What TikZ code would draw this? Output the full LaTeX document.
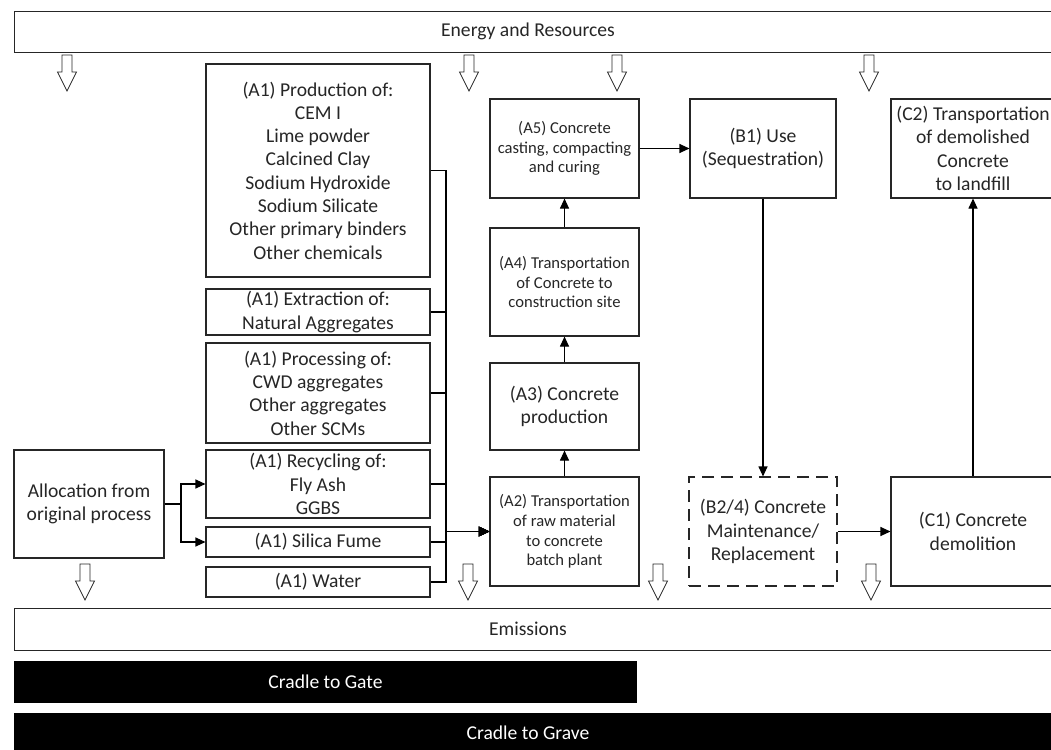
\documentclass[tikz,border=0pt]{standalone}
\usepackage{fontspec}
\setmainfont{Carlito}
\usetikzlibrary{arrows.meta}
\definecolor{ink}{RGB}{38,38,38}
\begin{document}
\begin{tikzpicture}[x=1pt,y=-1pt,
  box/.style={draw=ink, line width=1.1pt, fill=white, inner sep=0pt, align=center,
    text=ink, font=\fontsize{19.6}{23.3}\selectfont},
  smallbox/.style={box, font=\fontsize{16.6}{19.6}\selectfont},
  dashbox/.style={box, dash pattern=on 12pt off 7pt},
  bar/.style={draw=ink, line width=1.1pt, fill=white, inner sep=0pt,
    minimum height=41pt, anchor=north west},
  blackbar/.style={fill=black, inner sep=0pt, anchor=north west},
  bartext/.style={inner sep=0pt, font=\fontsize{19.6}{23.3}\selectfont},
  link/.style={draw=black, line width=1.1pt},
  flow/.style={link, -{Triangle[length=10pt,width=9pt]}},
  mainflow/.style={draw=black, line width=1.9pt, -{Triangle[length=11pt,width=10pt]}},
  harrow/.pic={\draw[ink, line width=0.8pt, fill=white, line join=miter]
    (-5,0) -- (-5,17) -- (-9.5,17) -- (0,36) -- (9.5,17) -- (5,17) -- (5,0) -- cycle;}
]
\useasboundingbox (0,0) rectangle (1051,749);
\begin{scope}
\clip (0,0) rectangle (1051,749);

% bands across the whole life cycle
\node[bar, minimum width=1060pt] (energy) at (14,11) {};
\node[bartext, text=ink] (energyt) at (528,31.5) {Energy and Resources};
\node[bar, minimum width=1060pt, minimum height=42pt] (emis) at (14,608) {};
\node[bartext, text=ink] (emist) at (528,629) {Emissions};
\node[blackbar, minimum width=623pt, minimum height=42pt] (gate) at (14,661) {};
\node[bartext, text=white] (gatet) at (325.5,682) {Cradle to Gate};
\node[blackbar, minimum width=1060pt, minimum height=45pt] (grave) at (14,713) {};
\node[bartext, text=white] (gravet) at (528,733) {Cradle to Grave};

% A1 raw material stages
\node[box, minimum width=224pt, minimum height=213pt] (prod) at (318,170.5)
  {(A1) Production of:\\CEM I\\Lime powder\\Calcined Clay\\Sodium Hydroxide\\Sodium Silicate\\Other primary binders\\Other chemicals};
\node[box, minimum width=224pt, minimum height=46pt] (extr) at (318,312)
  {(A1) Extraction of:\\Natural Aggregates};
\node[box, minimum width=224pt, minimum height=100pt] (proc) at (318,393)
  {(A1) Processing of:\\CWD aggregates\\Other aggregates\\Other SCMs};
\node[box, minimum width=224pt, minimum height=68pt] (recy) at (318,484)
  {(A1) Recycling of:\\Fly Ash\\GGBS};
\node[box, minimum width=224pt, minimum height=30pt] (silica) at (318,542)
  {(A1) Silica Fume};
\node[box, minimum width=224pt, minimum height=30pt] (water) at (318,582)
  {(A1) Water};
\node[box, minimum width=150pt, minimum height=108pt] (alloc) at (89,504)
  {Allocation from\\original process};

% A2-A5 construction stages
\node[smallbox, minimum width=149pt, minimum height=109pt] (a2) at (564.5,531.5)
  {(A2) Transportation\\of raw material\\to concrete\\batch plant};
\node[box, minimum width=149pt, minimum height=87pt] (a3) at (564.5,406.5)
  {(A3) Concrete\\production};
\node[smallbox, minimum width=149pt, minimum height=108pt] (a4) at (564.5,282)
  {(A4) Transportation\\of Concrete to\\construction site};
\node[smallbox, minimum width=149pt, minimum height=99pt] (a5) at (564.5,148.5)
  {(A5) Concrete\\casting, compacting\\and curing};

% use and end of life
\node[box, minimum width=146pt, minimum height=99pt] (b1) at (763,148.5)
  {(B1) Use\\(Sequestration)};
\node[dashbox, minimum width=148pt, minimum height=109pt] (b24) at (763,531.5)
  {(B2/4) Concrete\\Maintenance/\\Replacement};
\node[box, minimum width=164pt, minimum height=109pt] (c1) at (973,531.5)
  {(C1) Concrete\\demolition};
\node[box, minimum width=164pt, minimum height=99pt] (c2) at (973,148.5)
  {(C2) Transportation\\of demolished\\Concrete\\to landfill};

% collecting bus and branch point
\coordinate (bus) at (446,0);
\coordinate (split) at (181,0);

\foreach \src in {prod,extr,proc,recy,silica,water}
  \draw[flow] (\src.east) -- (\src.east -| bus) |- (a2.west);
% the merged trunk of the bus is heavier
\draw[mainflow] (extr.east -| bus) |- (a2.west);
\draw[flow] (alloc.east) -- (alloc.east -| split) |- (recy.west);
\draw[flow] (alloc.east) -- (alloc.east -| split) |- (silica.west);

\draw[flow] (a2) -- (a3);
\draw[flow] (a3) -- (a4);
\draw[flow] (a4) -- (a5);
\draw[flow] (a5) -- (b1);
\draw[flow] (b1) -- (b24);
\draw[flow] (b24) -- (c1);
\draw[flow] (c1) -- (c2);

% energy inputs and emission outputs
\foreach \x in {67,469,617,869} \pic at (\x,55) {harrow};
\foreach \x in {85,468,658,871} \pic at (\x,564) {harrow};
\end{scope}
\end{tikzpicture}
\end{document}
